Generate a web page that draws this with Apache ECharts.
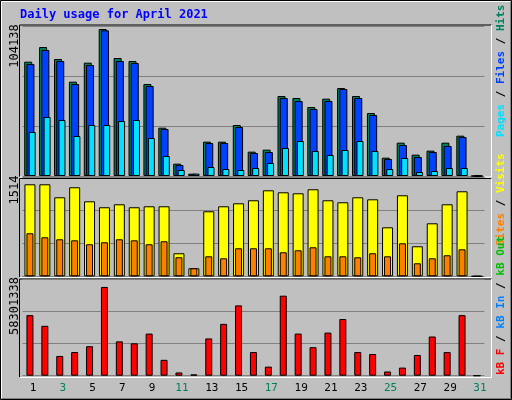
<!DOCTYPE html>
<html>
<head>
<meta charset="utf-8">
<script src="https://cdn.jsdelivr.net/npm/echarts@6/dist/echarts.min.js"></script>
<style>html,body{margin:0;padding:0;background:#c0c0c0}#chart{width:512px;height:400px}</style>
</head>
<body>
<div id="chart"></div>
<script>
var days = ['1','2','3','4','5','6','7','8','9','10','11','12','13','14','15','16','17','18','19','20','21','22','23','24','25','26','27','28','29','30','31'];
var weekend = ['3','4','10','11','17','18','24','25','31'];
var hits = [80983,91371,82871,66816,80274,104138,83579,81455,65164,34235,8736,1653,24318,24318,36123,17235,18652,56664,55247,48873,54775,62330,56664,44623,12986,23610,15110,17944,23610,28568,0];
var files = [79330,89246,81455,65164,78621,103176,81455,80038,63747,33290,7791,1181,23374,23374,34707,16291,16999,55247,53123,47456,53123,61622,55247,43206,12041,21957,13458,16999,21249,27624,0];
var pages = [31165,41790,39665,28332,36123,36123,38957,39665,26915,14166,4250,1653,6375,4958,4250,5666,9208,19832,24791,17708,14874,18416,24791,17708,4958,12749,2833,3542,5666,5666,0];
var visits = [1514,1514,1300,1465,1234,1136,1185,1136,1152,1152,379,132,1070,1152,1201,1251,1415,1382,1366,1432,1251,1218,1300,1267,806,1333,494,872,1185,1399,0];
var sites = [708,642,609,592,527,560,609,592,527,576,313,132,329,296,461,461,461,395,428,477,329,329,313,379,329,543,214,296,346,444,0];
var kbytes = [39789000,32768000,12979000,15533000,19363000,58301338,22554000,21278000,27661000,10426000,2128000,851000,24469000,34044000,46173000,15533000,5958000,52556000,27661000,18724000,28299000,37236000,15533000,14256000,2766000,5319000,13618000,25746000,15533000,39789000,0];

var mono = '"DejaVu Sans Mono", monospace';
var chart = echarts.init(document.getElementById('chart'));

function catAxis(grid, show) {
    return {
        type: 'category', data: days, gridIndex: grid,
        axisLine: {show: false}, axisTick: {show: false},
        axisLabel: show ? {
            fontFamily: mono, fontSize: 11, margin: 6,
            color: function (v) { return weekend.indexOf(v) >= 0 ? '#00805c' : '#000'; }
        } : {show: false}
    };
}
function valAxis(grid, max) {
    return {
        type: 'value', gridIndex: grid, min: 0, max: max, interval: max / 3,
        axisLabel: {show: false}, axisLine: {show: false}, axisTick: {show: false},
        splitLine: {lineStyle: {color: '#808080', width: 1}}
    };
}
function panel(y1, y2) {
    return [
        {type: 'polyline', shape: {points: [[19.5, y2], [19.5, y1], [491.5, y1]]}, style: {stroke: '#000', fill: null}},
        {type: 'polyline', shape: {points: [[491.5, y1], [491.5, y2], [19.5, y2]]}, style: {stroke: '#fff', fill: null}}
    ];
}
function vtext(x, y, rich, str) {
    return {type: 'text', x: x, y: y, rotation: Math.PI / 2,
        style: {text: str, rich: rich, font: 'bold 11px ' + mono, fill: '#000', align: 'left', verticalAlign: 'middle'}};
}
var bw = {borderColor: '#000', borderWidth: 1};

chart.setOption({
    backgroundColor: '#c0c0c0',
    animation: false,
    grid: [
        {left: 22.5, right: 27.6, top: 26, height: 150},
        {left: 22.5, right: 27.6, top: 177.3, height: 99},
        {left: 22.5, right: 27.6, top: 279.5, height: 96.2},
        {left: 25.5, right: 24.6, top: 376, height: 1}
    ],
    xAxis: [catAxis(0), catAxis(1), catAxis(1), catAxis(2), catAxis(3, true)],
    yAxis: [valAxis(0, 106263), valAxis(1, 1629), valAxis(1, 1629), valAxis(2, 63195000),
        {type: 'value', gridIndex: 3, show: false}],
    series: [
        {type: 'bar', name: 'Hits', xAxisIndex: 0, yAxisIndex: 0, data: hits, barWidth: 8, barGap: '-72%',
            itemStyle: Object.assign({color: '#00805c'}, bw)},
        {type: 'bar', name: 'Files', xAxisIndex: 0, yAxisIndex: 0, data: files, barWidth: 8, barGap: '-72%',
            itemStyle: Object.assign({color: '#0040ff'}, bw)},
        {type: 'bar', name: 'Pages', xAxisIndex: 0, yAxisIndex: 0, data: pages, barWidth: 7, barGap: '-72%',
            itemStyle: Object.assign({color: '#00e0ff'}, bw)},
        {type: 'bar', name: 'Visits', xAxisIndex: 1, yAxisIndex: 1, data: visits, barWidth: 11,
            itemStyle: Object.assign({color: '#ffff00'}, bw)},
        {type: 'bar', name: 'Sites', xAxisIndex: 2, yAxisIndex: 2, data: sites, barWidth: 7,
            itemStyle: Object.assign({color: '#ff8000'}, bw)},
        {type: 'bar', name: 'kB F', xAxisIndex: 3, yAxisIndex: 3, data: kbytes, barWidth: 7,
            itemStyle: Object.assign({color: '#ff0000'}, bw)}
    ],
    graphic: [
        {type: 'polyline', shape: {points: [[0.5, 399.5], [0.5, 0.5], [511.5, 0.5], [511.5, 399.5], [0.5, 399.5]]}, style: {stroke: '#000', fill: null}},
        {type: 'polyline', shape: {points: [[1.5, 398], [1.5, 1.5], [510, 1.5]]}, style: {stroke: '#fff', fill: null, lineWidth: 1}},
        {type: 'polyline', shape: {points: [[510.5, 2], [510.5, 398.5], [2, 398.5]]}, style: {stroke: '#808080', fill: null, lineWidth: 1}},
        {type: 'text', x: 20, y: 15, style: {text: 'Daily usage for April 2021', font: 'bold 12px ' + mono, fill: '#0000ff', verticalAlign: 'middle'}}
    ].concat(panel(25, 177), panel(178.5, 277.5), panel(279, 377.5), [
        {type: 'text', x: 15, y: 46, rotation: Math.PI / 2,
            style: {text: '104138', font: '12px ' + mono, fill: '#000', align: 'center', verticalAlign: 'middle'}},
        {type: 'text', x: 15, y: 190, rotation: Math.PI / 2,
            style: {text: '1514', font: '12px ' + mono, fill: '#000', align: 'center', verticalAlign: 'middle'}},
        {type: 'text', x: 15, y: 306, rotation: Math.PI / 2,
            style: {text: '58301338', font: '12px ' + mono, fill: '#000', align: 'center', verticalAlign: 'middle'}},
        vtext(501, 137, {p: {fill: '#00e0ff'}, f: {fill: '#0040ff'}, h: {fill: '#00805c'}, s: {fill: '#000'}},
            '{p|Pages} {s|/} {f|Files} {s|/} {h|Hits}'),
        vtext(501, 246, {o: {fill: '#ff8000'}, v: {fill: '#ffff00'}, s: {fill: '#000'}},
            '{o|Sites} {s|/} {v|Visits}'),
        vtext(501, 375, {r: {fill: '#ff0000'}, b: {fill: '#0080ff'}, g: {fill: '#00c000'}, s: {fill: '#000'}},
            '{r|kB F} {s|/} {b|kB In} {s|/} {g|kB Out}')
    ])
});
</script>
</body>
</html>
